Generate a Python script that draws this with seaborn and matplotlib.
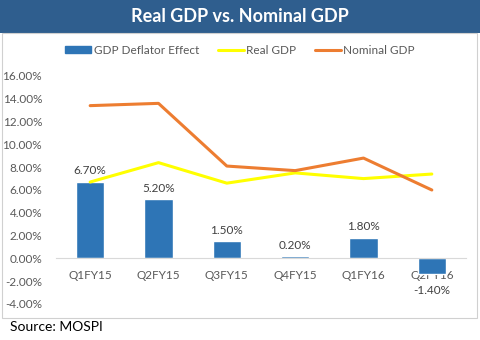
import matplotlib
matplotlib.use("Agg")
import matplotlib.pyplot as plt
import matplotlib.patches as mpatches
import matplotlib.lines as mlines
from matplotlib.ticker import FuncFormatter
import seaborn as sns
import numpy as np
import pandas as pd

categories = ["Q1FY15", "Q2FY15", "Q3FY15", "Q4FY15", "Q1FY16", "Q2FY16"]
deflator = [6.7, 5.2, 1.5, 0.2, 1.8, -1.4]
real_gdp = [6.7, 8.4, 6.6, 7.5, 7.0, 7.4]
nominal_gdp = [13.4, 13.6, 8.1, 7.7, 8.8, 6.0]

sns.set_theme(style="white")
plt.rcParams['font.family'] = ['Lato', 'DejaVu Sans']

BLUE = "#2E75B6"
YELLOW = "#FFFF00"
ORANGE = "#ED7D31"
TXT = "#595959"

fig = plt.figure(figsize=(4.8, 3.4), dpi=100)
fig.patch.set_facecolor("white")

# title band
fig.patches.append(mpatches.Rectangle((0, 1 - 33/340), 1, 33/340, transform=fig.transFigure,
                                      facecolor="#2F5E8E", edgecolor="none", zorder=0))
fig.text(0.5, 1 - 17/340, "Real GDP vs. Nominal GDP", ha="center", va="center",
         color="white", fontsize=13, fontweight="bold")
# chart border
fig.patches.append(mpatches.Rectangle((2/480, 1 - 318/340), 475/480, 285/340, transform=fig.transFigure,
                                      facecolor="none", edgecolor="#D0D0D0", linewidth=0.8, zorder=0))
fig.text(10/480, 1 - 327/340, "Source: MOSPI", ha="left", va="center", color="black", fontsize=10)

ax = fig.add_axes([56/480, (340-304)/340, (466-56)/480, (304-76)/340])
ax.set_facecolor("none")

df = pd.DataFrame({"cat": categories, "deflator": deflator})
sns.barplot(data=df, x="cat", y="deflator", color=BLUE, width=0.41, ax=ax, saturation=1, zorder=2)
xs = np.arange(len(categories))
sns.lineplot(x=xs, y=real_gdp, color=YELLOW, linewidth=2.2, ax=ax, zorder=3)
sns.lineplot(x=xs, y=nominal_gdp, color=ORANGE, linewidth=2.2, ax=ax, zorder=3)

for cont in ax.containers:
    ax.bar_label(cont, labels=[f"{v:.2f}%" if v >= 0 else "" for v in deflator],
                 padding=4, fontsize=8.5, color="#404040")
    ax.bar_label(cont, labels=[f"{v:.2f}%" if v < 0 else "" for v in deflator],
                 padding=8, fontsize=8.5, color="#404040")

ax.set_ylim(-4, 16)
ax.set_xlim(-0.5, len(categories) - 0.5)
ax.set_yticks(np.arange(-4, 17, 2))
ax.yaxis.set_major_formatter(FuncFormatter(lambda v, p: f"{v:.2f}%"))
ax.tick_params(axis="y", labelsize=8.5, labelcolor=TXT, length=0, pad=10)
ax.tick_params(axis="x", labelsize=8.5, labelcolor=TXT, length=0, pad=8)
ax.set_xlabel("")
ax.set_ylabel("")
for s in ["top", "right", "left"]:
    ax.spines[s].set_visible(False)
ax.spines["bottom"].set_position(("data", 0))
ax.spines["bottom"].set_color("#D9D9D9")
ax.spines["bottom"].set_linewidth(0.8)

handles = [mpatches.Patch(color=BLUE, label="GDP Deflator Effect"),
           mlines.Line2D([], [], color=YELLOW, linewidth=2.2, label="Real GDP"),
           mlines.Line2D([], [], color=ORANGE, linewidth=2.2, label="Nominal GDP")]
leg = fig.legend(handles=handles, loc="center", bbox_to_anchor=(0.5, 1 - 50/340), ncol=3,
                 frameon=False, fontsize=8.5, handlelength=2.2, handleheight=0.5,
                 handletextpad=0.2, columnspacing=1.6)
for t in leg.get_texts():
    t.set_color(TXT)

fig.savefig("out.png", dpi=100)
